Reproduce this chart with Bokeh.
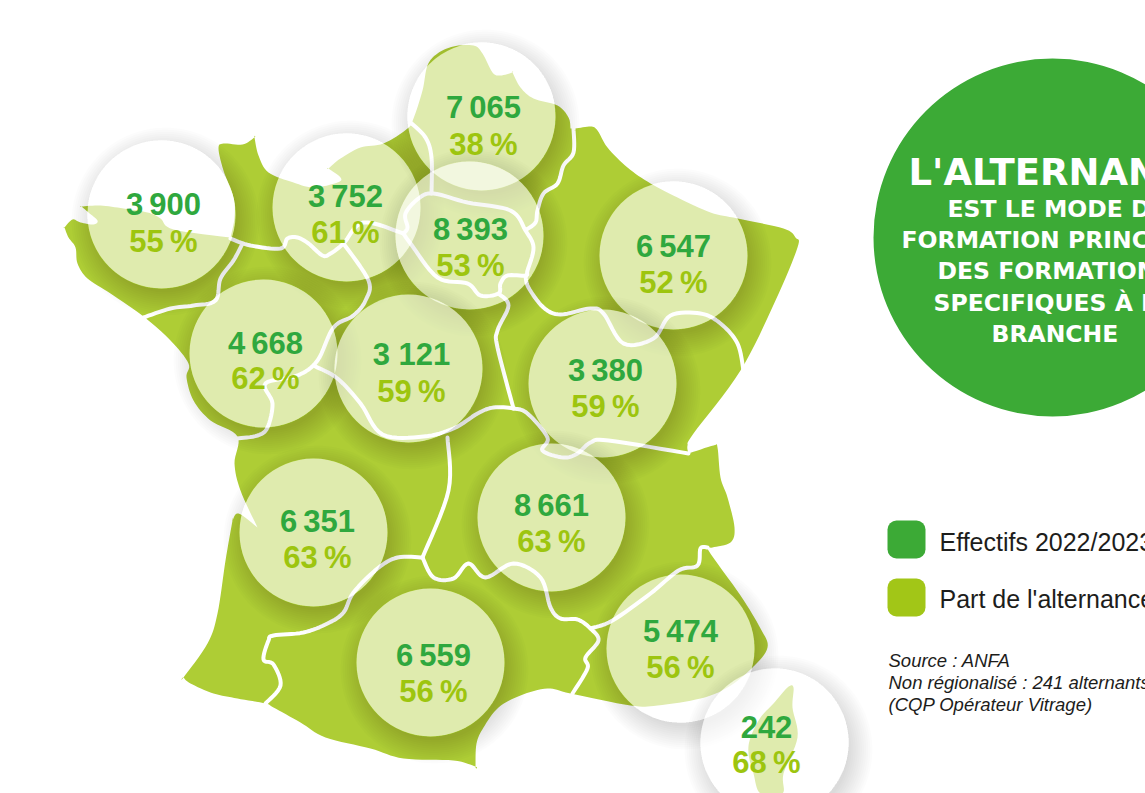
import numpy as np
from bokeh.plotting import figure
from bokeh.embed import file_html
from bokeh.resources import INLINE
from bokeh.core.properties import value

# ---- values
regions = ["Bretagne","Normandie","Hauts-de-France","Ile-de-France","Grand Est","Pays de la Loire",
           "Centre-Val de Loire","Bourgogne-Franche-Comte","Nouvelle-Aquitaine","Auvergne-Rhone-Alpes",
           "Occitanie","PACA","Corse"]
effectifs = ["3\u2009900","3\u2009752","7\u2009065","8\u2009393","6\u2009547","4\u2009668","3 121","3\u2009380",
             "6\u2009351","8\u2009661","6\u2009559","5\u2009474","242"]
parts = ["55\u2009%","61\u2009%","38\u2009%","53\u2009%","52\u2009%","62\u2009%","59\u2009%","59\u2009%",
         "63\u2009%","63\u2009%","56\u2009%","56\u2009%","68\u2009%"]

# ---- bubbles: centres and label anchors in picture coordinates
bubble_x = [161,346,481,469,673,263,408,602,313,551,430,680,774]
bubble_y = [214,207,116,235,255,353,368,383,532,517,662,648,742]
label_x  = [163,345,483,470,673,265,411,605,317,551,433,680,766]
num_y    = [205,197,108,230,247,344,355,371,522,506,656,632,727]
pct_y    = [242,233,145,266,283,379,392,407,558,542,692,668,763]
BUBBLE_R = 74

# ---- map outline (picture coordinates); a repeated point is a sharp corner
outline = [(81,206),(81,206),(88,212),(97,220),(93,224),(80,222),(72,219),(64,227),(64,227),(68,237),(75,247),(77,263),(87,278),
 (110,293),(143,316),(170,340),(188,363),(186,377),(193,400),(210,420),(237,436),(234,463),(240,490),(257,527),(257,527),
 (238,513),(232,520),(232,520),(225,560),(217,613),(207,643),(183,677),(183,677),(190,683),(213,693),(237,698),(265,703),
 (273,707),(300,722),(325,737),(370,748),(403,758),(453,760),(475,766),(475,766),(476,743),(483,727),(498,707),(520,695),
 (547,688),(570,693),(630,705),(657,705),(700,698),(727,687),(752,667),(767,647),(760,628),(740,595),(708,550),(712,547),
 (730,542),(734,527),(727,497),(720,477),(717,447),(713,445),(688,453),(688,453),(687,445),(693,433),(740,370),(775,300),
 (797,247),(795,237),(783,228),(737,218),(710,212),(677,197),(650,183),(627,167),(607,147),(597,130),(590,126),(575,128),
 (570,128),(570,128),(568,117),(557,105),(533,98),(520,87),(512,72),(512,72),(500,75),(492,72),(482,53),(473,45),(453,46),
 (437,53),(427,65),(422,90),(413,118),(407,128),(383,143),(360,147),(340,158),(328,168),(328,168),(340,177),(337,182),
 (313,187),(293,182),(268,172),(258,155),(254,137),(254,137),(242,144),(223,143),(218,148),(223,170),(233,197),(234,217),
 (230,237),(230,237),(173,229),(160,218),(147,212),(123,208),(100,205)]
corsica = [(793,687),(787,687),(773,703),(760,717),(750,737),(748,753),(753,773),(760,793),(782,793),(783,773),(797,737),(792,707)]

# ---- white region borders (picture coordinates)
borders = [
 [(230,238),(250,245),(280,248),(287,238),(297,237),(308,243),(322,255),(330,253),(343,243),(363,222),(403,233)],
 [(403,233),(407,227),(405,213),(418,198),(433,193),(467,202),(510,210),(525,230),(533,247),(527,270),(525,275),(507,275),
  (500,283),(498,293),(480,295),(467,283),(437,277),(410,243),(403,233)],
 [(410,122),(425,137),(431,157),(431,193)],
 [(573,128),(573,152),(563,165),(557,183),(543,193),(537,210),(535,222),(526,229)],
 [(525,275),(528,287),(543,307),(560,314),(590,308),(603,313),(623,343),(653,338),(670,315),(700,313),(720,323),(737,343),(743,370)],
 [(498,293),(508,305),(497,330),(497,347),(513,408)],
 [(315,366),(337,378),(360,403),(382,434),(423,436),(453,428),(477,413),(493,407),(513,408),(527,413),(547,437),(542,450),
  (563,457),(577,453),(590,442),(608,440),(688,453)],
 [(447,437),(448,490),(422,557)],
 [(422,557),(397,557),(377,568),(353,592),(343,612),(327,623),(303,632),(273,635),(268,640),(263,659),(273,664),(280,685),(265,703)],
 [(422,557),(433,577),(453,578),(468,563),(485,577),(513,563),(540,577),(550,607),(560,618),(577,619),(590,628),(598,640),
  (585,657),(587,668),(572,693)],
 [(590,628),(612,620),(650,593),(678,570),(697,565),(700,548),(707,547)],
 [(242,243),(233,260),(220,278),(215,300),(193,305),(170,308),(143,317)],
 [(343,243),(368,280),(365,300),(353,315),(333,327),(317,360),(297,375),(265,383),(272,403),(267,427),(257,435),(237,438)],
]

# ---- texts
title_lines = ["L'ALTERNANCE","EST LE MODE DE","FORMATION PRINCIPAL","DES FORMATIONS","SPECIFIQUES À LA","BRANCHE"]
title_x = [908,947,901,937,933,991]
title_y = [172,208,239,270,302,333]
title_size = ["37px","23.5px","23.5px","23.5px","23.5px","23.5px"]
legend_labels = ["Effectifs 2022/2023","Part de l'alternance"]
source_lines = ["Source : ANFA","Non régionalisé : 241 alternants","(CQP Opérateur Vitrage)"]

MAP = "#aecd35"; DARK = "#2fa83e"; LIGHT = "#9dc50f"; BIG = "#3caa36"


def smooth(pts, closed=False, n=8):
    P = np.array(pts, float)
    if closed:
        Q = np.vstack([P[-1], P, P[0], P[1]])
    else:
        Q = np.vstack([P[0], P, P[-1]])
    xs, ys = [], []
    for i in range(1, len(Q) - 2):
        p0, p1, p2, p3 = Q[i-1], Q[i], Q[i+1], Q[i+2]
        for t in np.linspace(0, 1, n, endpoint=False):
            c = 0.5*((2*p1) + (p2-p0)*t + (2*p0-5*p1+4*p2-p3)*t*t + (3*p1-p0-3*p2+p3)*t**3)
            xs.append(c[0]); ys.append(c[1])
    xs.append(Q[-2][0]); ys.append(Q[-2][1])
    return xs, ys


p = figure(width=1145, height=793, x_range=(0,1145), y_range=(793,0), toolbar_location=None,
           output_backend="svg", min_border=0, x_axis_type=None, y_axis_type=None,
           outline_line_color=None, background_fill_color="white", border_fill_color="white")
p.grid.visible = False

x, y = smooth(outline, closed=True)
p.patch(x, y, fill_color=MAP, line_color=None)
x, y = smooth(corsica, closed=True)
p.patch(x, y, fill_color=MAP, line_color=None)
for b in borders:
    x, y = smooth(b)
    p.line(x, y, line_color="white", line_width=4, line_join="round", line_cap="round")

theta = np.linspace(0, 2*np.pi, 120)
ux, uy = np.cos(theta), np.sin(theta)
ox, oy = 4.0, 7.0
for cx, cy in zip(bubble_x, bubble_y):
    rx, ry = [], []
    for extra in np.linspace(-3, 20, 12):
        R = BUBBLE_R + extra
        d = ox*ux + oy*uy
        rad = d + np.sqrt(R*R - (ox*ox+oy*oy) + d*d)
        rad = np.maximum(rad, BUBBLE_R)
        rx.append(np.r_[cx+rad*ux, cx+BUBBLE_R*ux[::-1]])
        ry.append(np.r_[cy+rad*uy, cy+BUBBLE_R*uy[::-1]])
    p.patches(rx, ry, fill_color="black", fill_alpha=0.01, line_color=None)
    p.circle([cx], [cy], radius=BUBBLE_R, fill_color="white", fill_alpha=0.6, line_color=None)

bold = dict(text_font=value("Liberation Sans"), text_font_style="bold", text_align="center",
            text_baseline="alphabetic", text_font_size="31px")
p.text(label_x, [v-1 for v in num_y], text=effectifs, text_color=DARK, **bold)
p.text(label_x, [v-1 for v in pct_y], text=parts, text_color=LIGHT, **bold)

# big circle and headline
p.circle([1052], [237], radius=179, fill_color=BIG, line_color=None)
for tx, ty, tl, ts in zip(title_x, title_y, title_lines, title_size):
    p.text([tx], [ty], text=[tl], text_color="white", text_font=value("DejaVu Sans"), text_font_style="bold",
           text_baseline="alphabetic", text_font_size=ts)

# legend
p.quad(left=[887,887], right=[925,925], top=[520,578], bottom=[558,616], fill_color=[BIG, "#a2c617"],
       line_color=None, border_radius=9)
p.text([939,939], [541,598], text=legend_labels, text_color="#1d1d1b", text_font=value("Liberation Sans"),
       text_baseline="alphabetic", text_font_size="25px")
p.text([888,888,888], [660,682,704], text=source_lines, text_color="#1d1d1b", text_font=value("Liberation Sans"),
       text_font_style="italic", text_baseline="alphabetic", text_font_size="18.5px")

open("out.html", "w").write(file_html(p, INLINE))
